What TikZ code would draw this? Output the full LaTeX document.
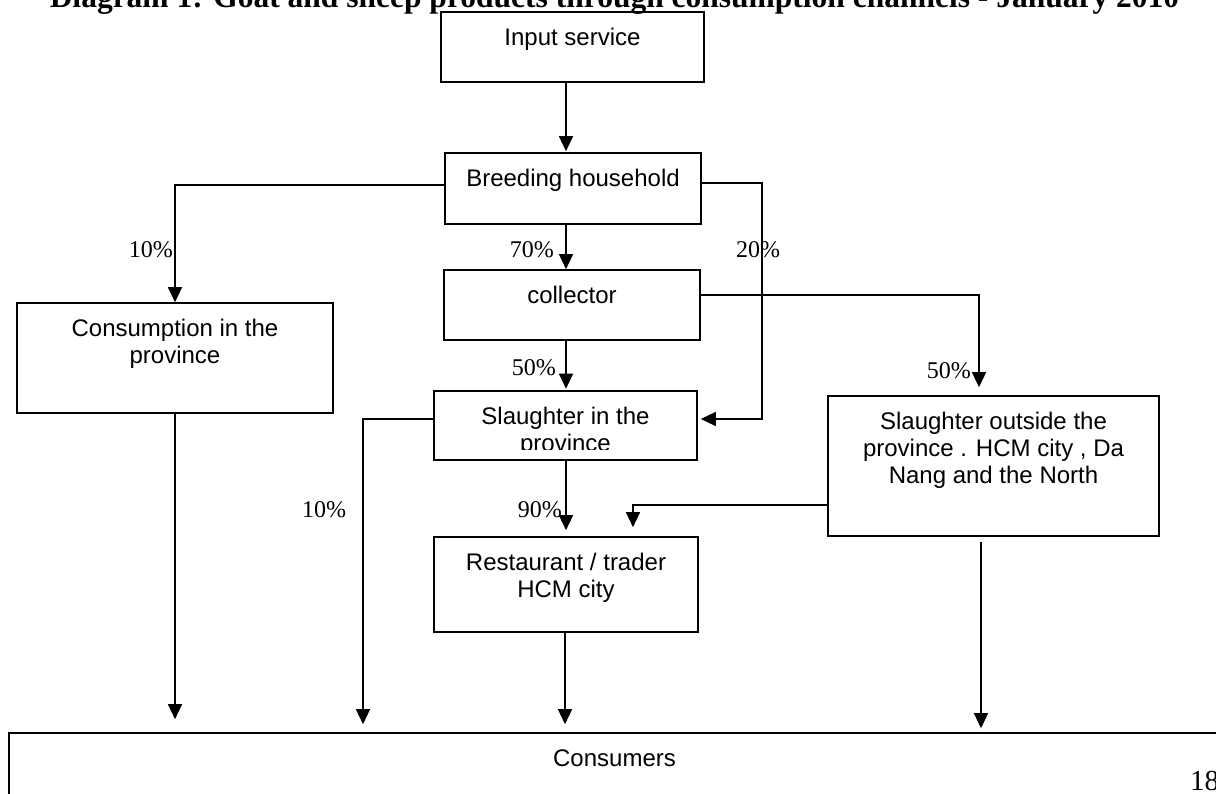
\documentclass[tikz,border=0pt]{standalone}
\usepackage{fontspec}
\setmainfont{Liberation Serif}
\setsansfont{Liberation Sans}
\usetikzlibrary{arrows.meta}
\tikzstyle{flowbox} = [draw=black, rectangle, line width=1.6pt, inner sep=0pt]
\tikzstyle{boxtext} = [anchor=north, inner sep=0pt, align=center,
    font=\sffamily\fontsize{24}{27}\selectfont]
\tikzstyle{pct} = [inner sep=0pt, font=\fontsize{24}{27}\selectfont]
\tikzstyle{flow} = [line width=1.4pt, -{Triangle[length=15pt,width=14pt]}]

\begin{document}
\begin{tikzpicture}[x=1pt,y=-1pt]
\clip (0,0) rectangle (1216,794);
\def\pad{-17pt}

\node[anchor=base, inner sep=0pt, font=\bfseries\fontsize{31.5}{36}\selectfont] (title) at (614.5,8)
    {Diagram 1: Goat and sheep products through consumption channels - January 2010};

% boxes
\node[flowbox, minimum width=263pt, minimum height=70pt,
    label={[boxtext, yshift=\pad]north:Input service}] (input) at (572.5,47) {};
\node[flowbox, minimum width=256pt, minimum height=71pt,
    label={[boxtext, yshift=\pad]north:Breeding household}] (breeding) at (573,188.5) {};
\node[flowbox, minimum width=256pt, minimum height=70pt,
    label={[boxtext, yshift=\pad]north:collector}] (collector) at (572,305) {};
\node[flowbox, minimum width=316pt, minimum height=110pt,
    label={[boxtext, yshift=\pad]north:{Consumption in the\\province}}] (consumption) at (175,358) {};
\node[flowbox, minimum width=263pt, minimum height=69pt] (slaughterin) at (565.5,425.5) {};
\begin{scope}
\clip (slaughterin.north west) rectangle ([yshift=11pt]slaughterin.south east);
\node[boxtext] (slaughtertext) at ([yshift=\pad]slaughterin.north) {Slaughter in the\\province};
\end{scope}
\node[flowbox, minimum width=331pt, minimum height=140pt,
    label={[boxtext, yshift=\pad]north:{Slaughter outside the\\province . HCM city , Da\\Nang and the North}}] (outside) at (993.5,466) {};
\node[flowbox, minimum width=264pt, minimum height=95pt,
    label={[boxtext, yshift=\pad]north:{Restaurant / trader\\HCM city}}] (restaurant) at (566,584.5) {};
\node[flowbox, minimum width=1211pt, minimum height=97pt,
    label={[boxtext, yshift=\pad]north:Consumers}] (consumers) at (614.5,781.5) {};

% connectors
\coordinate (midline) at (566,0);
\coordinate (leftline) at (363,0);
\draw[flow, shorten >=1pt] (midline |- input.south) -- (midline |- breeding.north);
\draw[flow] (midline |- breeding.south) -- (midline |- collector.north);
\draw[flow, shorten >=1.5pt] (midline |- collector.south) -- (midline |- slaughterin.north);
\draw[flow, shorten >=6pt] (midline |- slaughterin.south) -- (midline |- restaurant.north);

\draw[flow] ([yshift=3.5pt]breeding.west) -| (consumption.north);
\draw[flow, shorten >=3pt] ([yshift=5.5pt]breeding.east) -- ++(60,0) |- ([yshift=6.5pt]slaughterin.east);
\draw[flow, shorten >=8pt] ([yshift=10pt]collector.east) -| ([xshift=-14.5pt]outside.north);
\draw[flow, shorten >=9pt] ([yshift=-39pt]outside.west) -| ([xshift=67pt]restaurant.north);

\draw[flow, shorten >=13pt] (consumption.south) -- (consumption.south |- consumers.north);
\draw[flow, shorten >=8pt] ([yshift=6.5pt]slaughterin.west) -| (leftline |- consumers.north);
\draw[flow, shorten >=8pt] ([xshift=-1pt]restaurant.south) -- ([xshift=-1pt]restaurant.south |- consumers.north);
\draw[flow, shorten <=5pt, shorten >=4pt] ([xshift=-12.5pt]outside.south) -- ([xshift=-12.5pt]outside.south |- consumers.north);

% shares
\node[pct, anchor=base east] (pconsume) at (173,258) {10\%};
\node[pct, anchor=base east] (pcollect) at (554,258) {70\%};
\node[pct, anchor=base west] (pdirect) at (736,258) {20\%};
\node[pct, anchor=base east] (pinside) at (556,375) {50\%};
\node[pct, anchor=base east] (poutside) at (971,378) {50\%};
\node[pct, anchor=base west] (plocal) at (302,517) {10\%};
\node[pct, anchor=base east] (prestaurant) at (562,517) {90\%};

\node[anchor=base west, inner sep=0pt, font=\fontsize{29}{33}\selectfont] (pageno) at (1190,790) {18};

\end{tikzpicture}
\end{document}
